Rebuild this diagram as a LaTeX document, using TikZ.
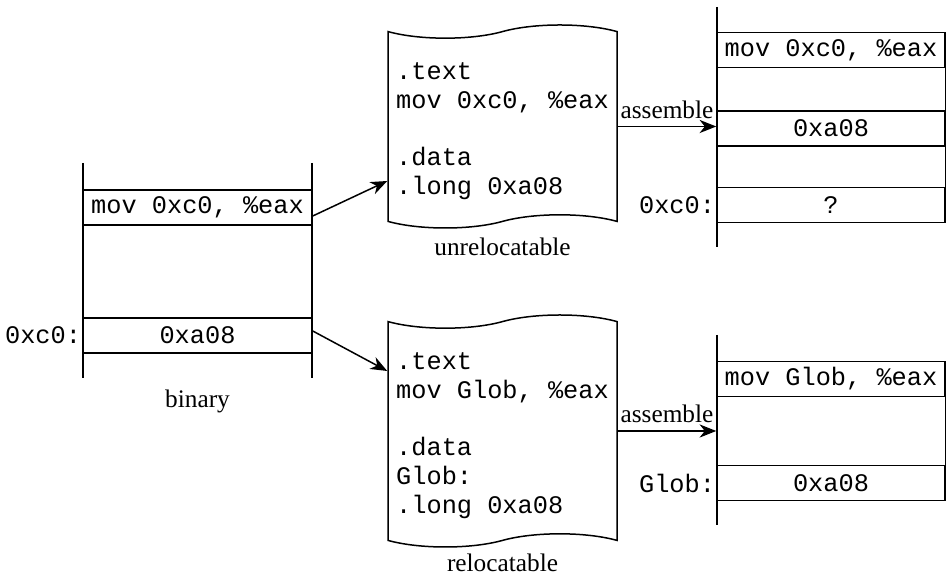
\documentclass[tikz,border=0pt]{standalone}
\usepackage{fontspec}
\setmainfont{Liberation Serif}
\setmonofont{Liberation Mono}
\usepackage{tikz}
\usetikzlibrary{positioning}
\usetikzlibrary{arrows.meta}
\usetikzlibrary{shapes.symbols}
\pgfdeclarelayer{nodelayer}
\pgfdeclarelayer{edgelayer}
\pgfsetlayers{nodelayer,edgelayer,main}
\tikzset{
    none/.style = {inner sep=0pt},
    cell/.style = {draw, line width=0.3mm, minimum width=4.58cm, minimum height=0.7cm,
        inner sep=0pt, font=\ttfamily\fontsize{14.4}{16.3}\selectfont},
    doc/.style = {draw, shape=tape, line width=0.3mm, tape bend height=7.5pt, align=left,
        minimum width=4.58cm, inner sep=0pt,
        font=\ttfamily\fontsize{14.4}{16.3}\selectfont},
    addr/.style = {anchor=east, inner sep=0.5pt, font=\ttfamily\fontsize{14.4}{16.3}\selectfont},
    caption/.style = {inner sep=0pt, font=\fontsize{14.4}{16}\selectfont}
}

\begin{document}
\begin{tikzpicture}
    % Set arrow tip globally
    \tikzset{>={Stealth[length=9.5pt, width=7.5pt, inset=3pt]}}
    \useasboundingbox (0, 0) rectangle (18.92, 11.5);

    \begin{pgfonlayer}{nodelayer}
        \node [cell] (0) at (3.95, 7.35) {mov 0xc0, \%eax};
        \node [cell] (1) at (3.95, 4.79) {0xa08};
        \node [addr] (2) at (1.west) {0xc0:};
        \node [caption] (3) at (3.95, 3.48) {binary};
        \node [doc, minimum height=4.06cm] (4) at (10.05, 8.97) {\rule{0pt}{15pt}.text\\mov 0xc0, \%eax\\[16.3pt].data\\.long 0xa08};
        \node [caption] (5) at (10.05, 6.57) {unrelocatable};
        \node [doc, minimum height=4.64cm] (6) at (10.05, 2.88) {\rule{0pt}{15pt}.text\\mov Glob, \%eax\\[16.3pt].data\\Glob:\\.long 0xa08};
        \node [caption] (7) at (10.05, 0.25) {relocatable};
        \node [cell, minimum width=4.56cm] (8) at (16.62, 10.5) {mov 0xc0, \%eax};
        \node [cell, minimum width=4.56cm] (9) at (16.62, 8.93) {0xa08};
        \node [cell, minimum width=4.56cm] (10) at (16.62, 7.4) {?};
        \node [addr] (11) at (10.west) {0xc0:};
        \node [cell, minimum width=4.56cm] (12) at (16.62, 3.92) {mov Glob, \%eax};
        \node [cell, minimum width=4.56cm] (13) at (16.62, 1.84) {0xa08};
        \node [addr] (14) at (13.west) {Glob:};
        \node [style=none] (15) at (1.66, 8.24) {};
        \node [style=none] (16) at (1.66, 3.94) {};
        \node [style=none] (17) at (6.24, 8.24) {};
        \node [style=none] (18) at (6.24, 3.94) {};
        \node [style=none] (19) at (14.34, 11.36) {};
        \node [style=none] (20) at (14.34, 6.56) {};
        \node [style=none] (21) at (14.34, 4.8) {};
        \node [style=none] (22) at (14.34, 1.0) {};
    \end{pgfonlayer}
    \begin{pgfonlayer}{edgelayer}
        \draw [line width=0.3mm] (15.center) to (16.center);
        \draw [line width=0.3mm] (17.center) to (18.center);
        \draw [line width=0.3mm] (19.center) to (20.center);
        \draw [line width=0.3mm] (21.center) to (22.center);
        \draw [line width=0.3mm] (8.north east) to (10.south east);
        \draw [line width=0.3mm] (12.north east) to (13.south east);
        \draw [->, line width=0.3mm] ([yshift=-0.17cm]0.east) to ([yshift=-1.09cm]4.west);
        \draw [->, line width=0.3mm] ([yshift=0.09cm]1.east) to ([yshift=1.2cm]6.west);
        \draw [->, line width=0.3mm] (4.east) to node [caption, above=4pt] (23) {assemble} (9.west |- 4.east);
        \draw [->, line width=0.3mm] (6.east) to node [caption, above=4pt] (24) {assemble} (12.west |- 6.east);
    \end{pgfonlayer}
\end{tikzpicture}
\end{document}
